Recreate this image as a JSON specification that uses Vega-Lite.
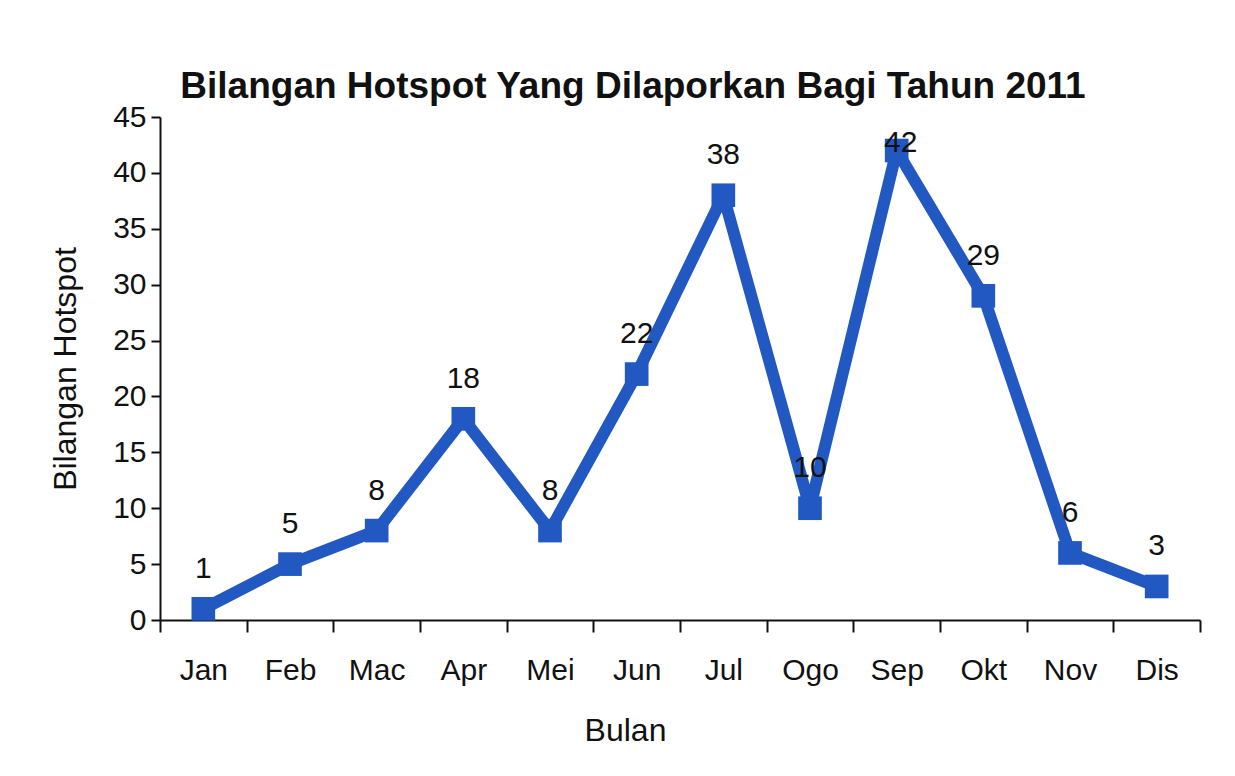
{
  "$schema": "https://vega.github.io/schema/vega-lite/v6.json",
  "autosize": {"type": "none"},
  "width": 1040,
  "height": 503,
  "padding": {"left": 160, "top": 117, "right": 35, "bottom": 156},
  "background": "white",
  "config": {
    "font": "Liberation Sans",
    "view": {"stroke": null},
    "axis": {"grid": false, "domainColor": "#111", "tickColor": "#111", "labelColor": "#111", "titleColor": "#111", "domainWidth": 2, "tickWidth": 2}
  },
  "title": {
    "text": "Bilangan Hotspot Yang Dilaporkan Bagi Tahun 2011",
    "fontSize": 37,
    "fontWeight": "bold",
    "color": "#111",
    "anchor": "middle",
    "dx": -47,
    "offset": -4
  },
  "data": {
    "values": [
      {"bulan": "Jan", "hotspot": 1},
      {"bulan": "Feb", "hotspot": 5},
      {"bulan": "Mac", "hotspot": 8},
      {"bulan": "Apr", "hotspot": 18},
      {"bulan": "Mei", "hotspot": 8},
      {"bulan": "Jun", "hotspot": 22},
      {"bulan": "Jul", "hotspot": 38},
      {"bulan": "Ogo", "hotspot": 10},
      {"bulan": "Sep", "hotspot": 42},
      {"bulan": "Okt", "hotspot": 29},
      {"bulan": "Nov", "hotspot": 6},
      {"bulan": "Dis", "hotspot": 3}
    ]
  },
  "encoding": {
    "x": {
      "field": "bulan",
      "type": "ordinal",
      "sort": null,
      "scale": {"type": "band", "paddingInner": 0, "paddingOuter": 0},
      "axis": {"title": "Bulan", "labelAngle": 0, "labelFontSize": 30, "titleFontSize": 32, "titleFontWeight": "normal", "tickBand": "extent", "tickSize": 12, "labelPadding": 23, "titlePadding": 30, "titleX": 465}
    },
    "y": {
      "field": "hotspot",
      "type": "quantitative",
      "scale": {"domain": [0, 45], "nice": false},
      "axis": {"title": "Bilangan Hotspot", "values": [0, 5, 10, 15, 20, 25, 30, 35, 40, 45], "labelFontSize": 30, "titleFontSize": 32, "titleFontWeight": "normal", "tickSize": 9, "labelPadding": 5, "titlePadding": 30}
    }
  },
  "layer": [
    {"mark": {"type": "line", "color": "#2158c2", "strokeWidth": 12, "strokeJoin": "round"}},
    {"mark": {"type": "point", "shape": "square", "filled": true, "size": 560, "color": "#2158c2", "opacity": 1}},
    {"transform": [{"filter": "datum.hotspot < 40"}], "mark": {"type": "text", "fontSize": 30, "dy": -40, "color": "#111"}, "encoding": {"text": {"field": "hotspot", "type": "quantitative"}}},
    {"transform": [{"filter": "datum.hotspot >= 40"}], "mark": {"type": "text", "fontSize": 30, "dy": -8, "dx": 4, "color": "#111"}, "encoding": {"text": {"field": "hotspot", "type": "quantitative"}}}
  ]
}
